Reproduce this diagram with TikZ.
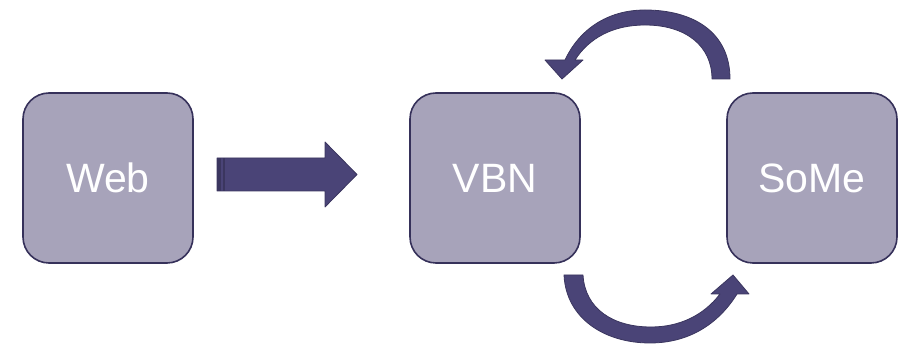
\documentclass[tikz,border=0pt]{standalone}
\usepackage{fontspec}
\setmainfont{Liberation Sans}
\definecolor{boxfill}{HTML}{A7A3BA}
\definecolor{boxline}{HTML}{36315A}
\definecolor{arrfill}{HTML}{4A4477}
\definecolor{arrdark}{HTML}{3B365F}
\tikzset{
  box/.style={draw=boxline, line width=1.6pt, fill=boxfill, rounded corners=26pt,
    minimum width=170pt, minimum height=170pt, inner sep=0pt, text=white,
    font=\fontsize{41}{44}\selectfont},
  bigarrow/.style={fill=arrfill, draw=arrdark, line width=0.8pt, line join=round}
}
\begin{document}
\begin{tikzpicture}[x=1pt,y=-1pt]
\useasboundingbox (0,0) rectangle (903,344);
\node[box] (web) at (108,178) {Web};
\node[box] (vbn) at (495,178) {VBN};
\node[box] (some) at (812,178) {SoMe};
% straight arrow Web -> VBN
\draw[bigarrow] (217,158) -- (325,158) -- (325,142) -- (357,174.5) -- (325,207) -- (325,191) -- (217,191) -- cycle;
\fill[arrdark] (217,158) rectangle (221,191);
\fill[arrdark] (223,158) rectangle (224.5,191);
% top curved arrow SoMe -> VBN
\draw[bigarrow] (730,79) .. controls (730,32) and (693,10) .. (645,10)
  .. controls (607,10) and (579,30) .. (565,60) -- (545,60) -- (562,79) -- (583,60) -- (575,60)
  .. controls (589,38) and (613,25) .. (645,25)
  .. controls (686,25) and (712,46) .. (712,79) -- cycle;
% bottom curved arrow VBN -> SoMe
\draw[bigarrow] (564,275) .. controls (566,318) and (604,343) .. (650,343)
  .. controls (690,343) and (719,323) .. (737,294) -- (749,294) -- (733,275) -- (711,294) -- (720,294)
  .. controls (704,315) and (680,327) .. (651,327)
  .. controls (613,327) and (585,309) .. (583,275) -- cycle;
\end{tikzpicture}
\end{document}
